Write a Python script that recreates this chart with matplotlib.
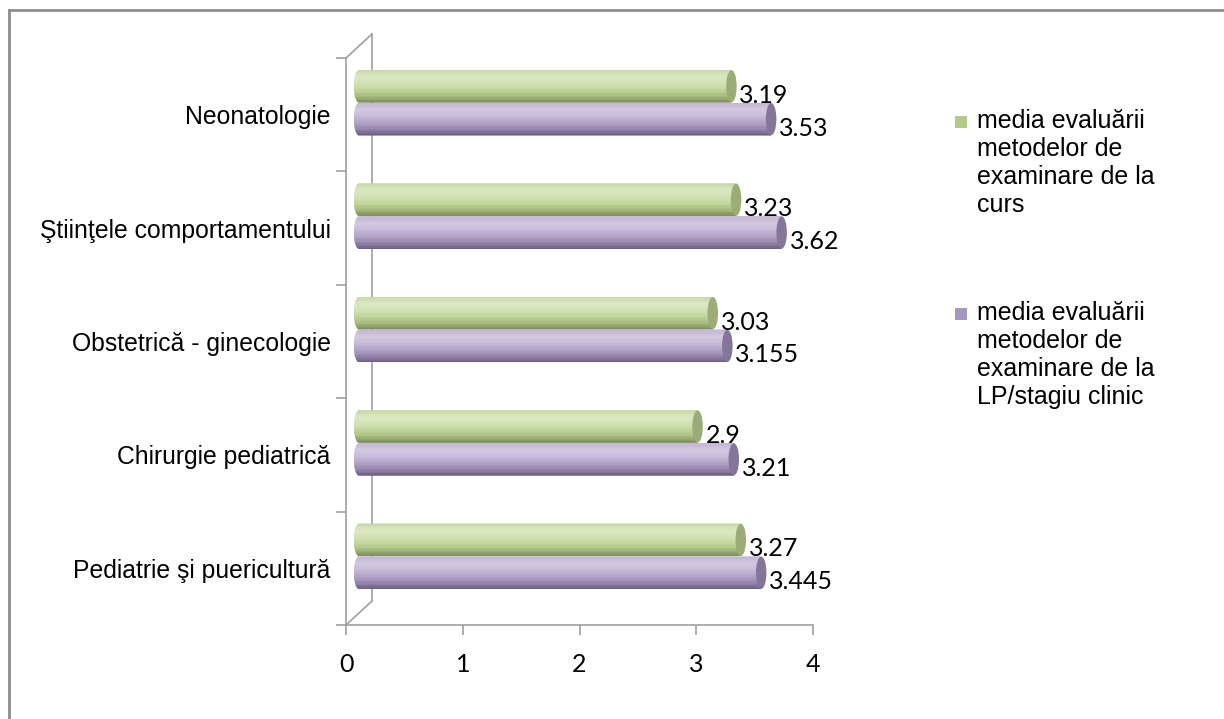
import numpy as np
import matplotlib
matplotlib.use('Agg')
import matplotlib.pyplot as plt
from matplotlib import transforms
from matplotlib.colors import LinearSegmentedColormap
from matplotlib.patches import Ellipse, Rectangle, ConnectionPatch, Polygon
from matplotlib.lines import Line2D

# data (bottom to top)
categories = ['Pediatrie şi puericultură', 'Chirurgie pediatrică',
              'Obstetrică - ginecologie', 'Ştiinţele comportamentului', 'Neonatologie']
curs_vals = [3.27, 2.9, 3.03, 3.23, 3.19]
lp_vals = [3.445, 3.21, 3.155, 3.62, 3.53]
series_names = ['media evaluării\nmetodelor de\nexaminare de la\ncurs',
                'media evaluării\nmetodelor de\nexaminare de la\nLP/stagiu clinic']
x_ticks = [0, 1, 2, 3, 4]

# cylinder shading (top -> bottom)
green_cmap = LinearSegmentedColormap.from_list(
    'g', ['#c9d8aa', '#dbe7c2', '#d3e2b6', '#c3d69c', '#aabd82', '#7f905e'])
purple_cmap = LinearSegmentedColormap.from_list(
    'p', ['#c2b6d2', '#d3c9e0', '#c8bcda', '#b5a5c9', '#9a89b0', '#6f6086'])
cap_colors = ['#9bac78', '#857699']

W, H = 1224, 719
fig = plt.figure(figsize=(W / 100, H / 100), dpi=100)
ax = fig.add_axes([346 / W, 1 - 625 / H, 467 / W, 567 / H])
ax.set_xlim(0, 4)
ax.set_ylim(0, 5)
ax.patch.set_visible(False)

grey = '#a0a0a0'
for s in ['top', 'right']:
    ax.spines[s].set_visible(False)
for s in ['left', 'bottom']:
    ax.spines[s].set_color(grey)
    ax.spines[s].set_linewidth(1.2)

# 3D depth offsets (bars sit at mid depth, back wall at full depth)
off_bar = transforms.offset_copy(ax.transData, fig, x=13, y=12, units='dots')
off_wall = transforms.offset_copy(ax.transData, fig, x=26, y=24, units='dots')

# back wall + depth lines
ax.plot([0, 0], [0, 5], color=grey, lw=1.2, transform=off_wall, clip_on=False)
for yy in (0, 5):
    con = ConnectionPatch(xyA=(0, yy), coordsA=ax.transData,
                          xyB=(0, yy), coordsB=off_wall, color=grey, lw=1.2)
    fig.add_artist(con)

bar_h = 0.29
cap_w = 0.09
n_strips = 24
theta = np.linspace(np.pi / 2, 3 * np.pi / 2, 30)
for si, (vals, cmap) in enumerate([(curs_vals, green_cmap), (lp_vals, purple_cmap)]):
    for i, v in enumerate(vals):
        y0 = i + 0.5 if si == 0 else i + 0.5 - bar_h
        yc = y0 + bar_h / 2
        # body outline: rounded left end, straight up to the cap
        outline = np.column_stack([
            np.concatenate([cap_w / 2 * np.cos(theta), [v, v]]),
            np.concatenate([yc + bar_h / 2 * np.sin(theta), [y0, y0 + bar_h]])])
        clip = Polygon(outline, closed=True, transform=off_bar,
                       facecolor='none', edgecolor='none')
        ax.add_patch(clip)
        for k in range(n_strips):
            bars = ax.barh(y0 + bar_h - (k + 1) * bar_h / n_strips, v + cap_w / 2,
                           height=bar_h / n_strips * 1.05, left=-cap_w / 2, align='edge',
                           color=cmap(k / (n_strips - 1)), edgecolor='none',
                           transform=off_bar, zorder=3, clip_on=True)
            for b in bars:
                b.set_clip_path(clip)
        ax.add_patch(Ellipse((v, yc), cap_w, bar_h * 0.98,
                             facecolor=cap_colors[si], edgecolor='none',
                             transform=off_bar, zorder=4, clip_on=False))
        ax.annotate(f'{v:g}', xy=(v, yc), xycoords=off_bar,
                    xytext=(8, -9), textcoords='offset pixels',
                    ha='left', va='center', fontsize=18, family='Lato',
                    color='#000000', zorder=5)

# axes ticks
ax.set_xticks(x_ticks)
ax.set_xticklabels([str(t) for t in x_ticks], fontsize=18, family='Lato')
ax.tick_params(axis='x', direction='out', length=7, width=1.2, color=grey, pad=13)
ax.set_yticks(np.arange(5) + 0.5)
ax.set_yticklabels(categories, fontsize=17.8, family='Liberation Sans')
ax.tick_params(axis='y', which='major', length=0, pad=11)
ax.set_yticks(np.arange(6), minor=True)
ax.tick_params(axis='y', which='minor', direction='out', length=7, width=1.2, color=grey)

# legend (manual, Excel style: square beside first line)
legend_colors = ['#b3c98a', '#a597bf']
legend_tops = [109, 301]
for name, col, top in zip(series_names, legend_colors, legend_tops):
    fig.add_artist(Rectangle((955 / W, 1 - (top + 19) / H), 12 / W, 12 / H,
                             transform=fig.transFigure, facecolor=col, edgecolor='none'))
    fig.text(977 / W, 1 - top / H, name, ha='left', va='top', fontsize=18,
             family='Liberation Sans', linespacing=1.21)

# outer frame (top and left edges)
fig.add_artist(Line2D([9 / W, 1], [1 - 10 / H, 1 - 10 / H], transform=fig.transFigure,
                      color='#8c8c8c', lw=2))
fig.add_artist(Line2D([9 / W, 9 / W], [0, 1 - 10 / H], transform=fig.transFigure,
                      color='#8c8c8c', lw=2))

fig.savefig('out.png', dpi=100)
